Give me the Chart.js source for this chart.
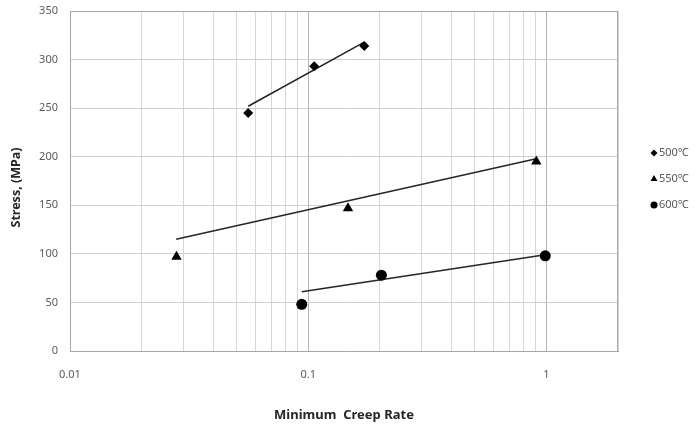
<!DOCTYPE html>
<html>
<head>
<meta charset="utf-8">
<script src="https://cdn.jsdelivr.net/npm/chart.js@4/dist/chart.umd.min.js"></script>
<style>
html,body{margin:0;padding:0;background:#fff;}
#wrap{width:698px;height:427px;position:relative;}
</style>
</head>
<body>
<div id="wrap"><canvas id="c" width="698" height="427"></canvas></div>
<script>
// ---- data ----
const seriesNames = ['500\u2103', '550\u2103', '600\u2103'];
const rate500 = [0.056, 0.106, 0.172];
const stress500 = [245, 293, 314];
const rate550 = [0.028, 0.147, 0.908];
const stress550 = [97, 147, 195];
const rate600 = [0.094, 0.203, 0.99];
const stress600 = [48, 78, 98];
// trend line end points
const trendRate500 = [0.056, 0.172];
const trendStress500 = [252, 318];
const trendRate550 = [0.0279, 0.908];
const trendStress550 = [115, 198];
const trendRate600 = [0.094, 0.99];
const trendStress600 = [61, 99];
// axis
const xMajorTicks = [0.01, 0.1, 1];
const xTickLabels = ['0.01', '0.1', '1'];
const yTickValues = [0, 50, 100, 150, 200, 250, 300, 350];
const xTitle = 'Minimum  Creep Rate';
const yTitle = 'Stress, (MPa)';

function pts(xs, ys){ return xs.map((x,i)=>({x:x, y:ys[i]})); }

const FONT = '"Noto Sans", "Open Sans", sans-serif';
const markerStyles = ['rectRot', 'triangle', 'circle'];
const markerRadius = [5, 6, 5.5];
const legendRadius = [3.5, 4, 3.5];

const datasets = [
  {label: seriesNames[0], data: pts(rate500, stress500), pointStyle: markerStyles[0], pointRadius: markerRadius[0]},
  {label: seriesNames[1], data: pts(rate550, stress550), pointStyle: markerStyles[1], pointRadius: markerRadius[1]},
  {label: seriesNames[2], data: pts(rate600, stress600), pointStyle: markerStyles[2], pointRadius: markerRadius[2]},
].map(d => Object.assign(d, {backgroundColor:'#000', borderColor:'#000', borderWidth:0, showLine:false, pointHoverRadius:d.pointRadius, order:1}));

[[trendRate500, trendStress500],[trendRate550, trendStress550],[trendRate600, trendStress600]].forEach((t,i)=>{
  datasets.push({label:'trend'+i, data: pts(t[0], t[1]), showLine:true, borderColor:'#262626', borderWidth:1.6, pointRadius:0, pointHoverRadius:0, fill:false, order:2});
});

const legendPlugin = {
  id: 'sideLegend',
  afterDraw(chart){
    const ctx = chart.ctx;
    const cx = 654, ys = [153, 179, 205];
    ctx.save();
    seriesNames.forEach((name,i)=>{
      ctx.fillStyle = '#000'; ctx.strokeStyle = '#000';
      Chart.helpers.drawPoint(ctx, {pointStyle: markerStyles[i], radius: legendRadius[i], borderWidth: 0, rotation: 0}, cx, ys[i]);
      ctx.fillStyle = '#595959';
      ctx.font = '11px ' + FONT;
      ctx.textBaseline = 'middle';
      ctx.textAlign = 'left';
      ctx.fillText(name, cx + 5, ys[i]);
    });
    ctx.restore();
  }
};

const borderPlugin = {
  id: 'plotBorder',
  beforeDatasetsDraw(chart){
    const a = chart.chartArea, ctx = chart.ctx;
    ctx.save();
    ctx.strokeStyle = '#a6a6a6';
    ctx.lineWidth = 1;
    ctx.beginPath();
    ctx.moveTo(a.left, a.top + 0.5); ctx.lineTo(a.right, a.top + 0.5);
    ctx.moveTo(a.right - 0.5, a.top); ctx.lineTo(a.right - 0.5, a.bottom);
    ctx.stroke();
    ctx.restore();
  }
};

new Chart(document.getElementById('c'), {
  type: 'scatter',
  data: {datasets},
  plugins: [borderPlugin, legendPlugin],
  options: {
    responsive: false,
    animation: false,
    devicePixelRatio: 1,
    layout: {padding: {top: 11, right: 80, bottom: 0, left: 0}},
    plugins: {legend: {display: false}, tooltip: {enabled: false}},
    scales: {
      x: {
        type: 'logarithmic',
        min: 0.01, max: 2,
        afterBuildTicks(scale){
          const t = [];
          for (let e = -2; e <= 0; e++) {
            for (let s = 1; s <= 9; s++) {
              const v = s * Math.pow(10, e);
              if (v <= 2.0001) t.push({value: +v.toPrecision(3)});
            }
          }
          scale.ticks = t;
        },
        afterFit(scale){ scale.height = 76; scale.paddingLeft = 0; scale.paddingRight = 0; },
        grid: {
          drawTicks: false,
          color(ctx){
            const v = ctx.tick ? ctx.tick.value : null;
            if (v === 0.01) return '#a6a6a6';
            return xMajorTicks.some(m => Math.abs(m - v) < 1e-9) ? '#b4b4b4' : '#d6d6d6';
          },
          lineWidth: 1
        },
        border: {display: true, color: '#a6a6a6'},
        ticks: {
          autoSkip: false, maxRotation: 0, padding: 17,
          color: '#595959', font: {family: FONT, size: 11},
          callback(value){
            const i = xMajorTicks.findIndex(m => Math.abs(m - value) < 1e-9);
            return i >= 0 ? xTickLabels[i] : '';
          }
        },
        title: {display: true, text: xTitle, color: '#262626', font: {family: FONT, size: 13, weight: 'bold'}, padding: {top: 0, bottom: 4}}
      },
      y: {
        min: 0, max: 350,
        afterBuildTicks(scale){ scale.ticks = yTickValues.map(v => ({value: v})); },
        afterFit(scale){ scale.width = 70; scale.paddingTop = 0; scale.paddingBottom = 0; },
        grid: {drawTicks: false, color: '#cfcfcf', lineWidth: 1},
        border: {display: true, color: '#a6a6a6'},
        ticks: {padding: 12, color: '#595959', font: {family: FONT, size: 11}},
        title: {display: true, text: yTitle + '    ', color: '#262626', font: {family: FONT, size: 12.5, weight: 'bold'}, padding: {top: 9, bottom: 0}}
      }
    }
  }
});
</script>
</body>
</html>
